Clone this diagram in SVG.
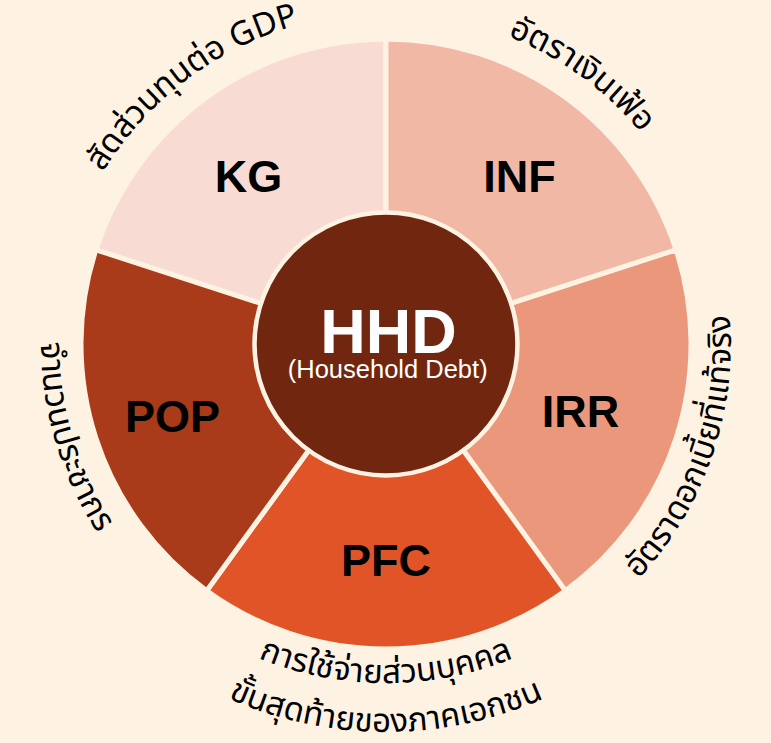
<svg xmlns="http://www.w3.org/2000/svg" width="771" height="743" viewBox="0 0 771 743">
<style>
.seg{stroke:#FEF3E3;stroke-width:5;stroke-linejoin:miter}
.lbl{font-family:"Liberation Sans",Arial,sans-serif;font-weight:bold;font-size:45px;fill:#000;text-anchor:middle}
.th{font-family:"Noto Sans Thai","Noto Sans Thai Looped","Noto Sans",sans-serif;font-size:33px;fill:#000;text-anchor:middle}
</style>
<defs>
<path id="pKG" d="M69.5,440.8 A331,331 0 0 1 566.3,66.4"/>
<path id="pINF" d="M200.9,69.6 A331,331 0 0 1 704.2,435.2"/>
<path id="pIRR" d="M392,688.9 A345,345 0 0 0 603.1,75.9"/>
<path id="pPOP" d="M180.8,66.7 A345,345 0 0 0 365,688.3"/>
<path id="pPFC1" d="M67.4,459.9 A339,339 0 0 0 704.6,459.9"/>
<path id="pPFC2" d="M21.4,476.7 A388,388 0 0 0 750.6,476.7"/>
</defs>
<rect width="771" height="743" fill="#FEF3E3"/>
<g id="KG">
<path class="seg" fill="#F8DCD3" d="M386,344 L95.9,249.8 A305,305 0 0 1 386,39 Z"/>
<text class="lbl" x="248.5" y="192">KG</text>
<text class="th"><textPath href="#pKG" startOffset="50%">สัดส่วนทุนต่อ GDP</textPath></text>
</g>
<g id="INF">
<path class="seg" fill="#F1B8A6" d="M386,344 L386,39 A305,305 0 0 1 676.1,249.8 Z"/>
<text class="lbl" x="519.5" y="192">INF</text>
<text class="th"><textPath href="#pINF" startOffset="50%">อัตราเงินเฟ้อ</textPath></text>
</g>
<g id="IRR">
<path class="seg" fill="#EB977B" d="M386,344 L676.1,249.8 A305,305 0 0 1 565.3,590.7 Z"/>
<text class="lbl" x="580.5" y="427">IRR</text>
<text class="th"><textPath href="#pIRR" startOffset="50%">อัตราดอกเบี้ยที่แท้จริง</textPath></text>
</g>
<g id="PFC">
<path class="seg" fill="#E05428" d="M386,344 L565.3,590.7 A305,305 0 0 1 206.7,590.7 Z"/>
<text class="lbl" x="386" y="576">PFC</text>
<text class="th"><textPath href="#pPFC1" startOffset="50%">การใช้จ่ายส่วนบุคคล</textPath></text>
<text class="th"><textPath href="#pPFC2" startOffset="50%">ขั้นสุดท้ายของภาคเอกชน</textPath></text>
</g>
<g id="POP">
<path class="seg" fill="#A93A1A" d="M386,344 L206.7,590.7 A305,305 0 0 1 95.9,249.8 Z"/>
<text class="lbl" x="172.5" y="432">POP</text>
<text class="th"><textPath href="#pPOP" startOffset="50%">จำนวนประชากร</textPath></text>
</g>
<g id="HHD">
<circle cx="386" cy="344" r="131.5" fill="#71270F" stroke="#FEF3E3" stroke-width="4.5"/>
<text x="388.5" y="353" font-family="Liberation Sans,Arial,sans-serif" font-weight="bold" font-size="63" fill="#fff" text-anchor="middle">HHD</text>
<text x="387.7" y="378" font-family="Liberation Sans,Arial,sans-serif" font-size="25.5" fill="#fff" text-anchor="middle">(Household Debt)</text>
</g>
<g id="connectors"/>
</svg>
